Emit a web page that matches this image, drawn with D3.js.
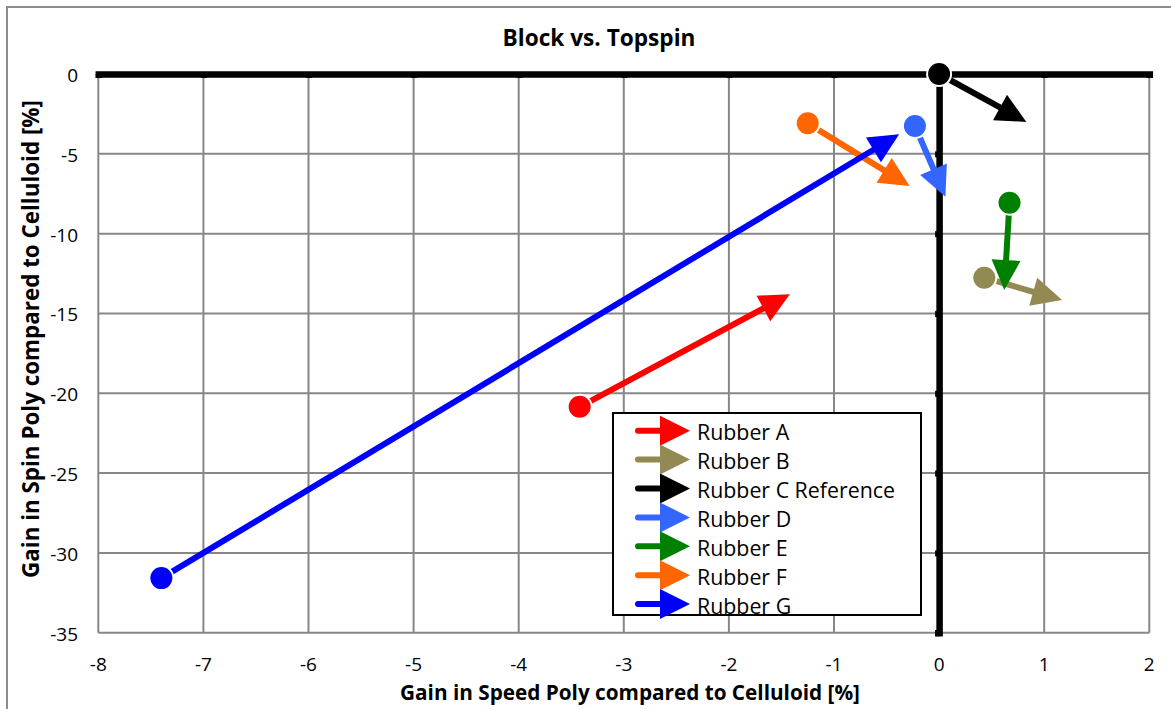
<!DOCTYPE html>
<html>
<head>
<meta charset="utf-8">
<script src="https://cdn.jsdelivr.net/npm/d3@7"></script>
<style>
  html, body { margin: 0; padding: 0; background: #fff; }
  svg { display: block; }
  text { font-family: "Open Sans", Lato, sans-serif; fill: #000; }
</style>
</head>
<body>
<svg id="chart" width="1171" height="709"></svg>
<script>
// ---- data ----
const rubbers = ["Rubber A", "Rubber B", "Rubber C Reference", "Rubber D", "Rubber E", "Rubber F", "Rubber G"];
const colors  = ["#FF0000", "#938953", "#000000", "#3366FF", "#008000", "#FF6600", "#0000FF"];
const startX  = [-3.42, 0.43, 0.00, -0.23, 0.67, -1.25, -7.40];
const startY  = [-20.85, -12.76, 0.00, -3.26, -8.06, -3.09, -31.58];
const endX    = [-1.42, 1.17, 0.83, 0.06, 0.62, -0.28, -0.38];
const endY    = [-13.80, -14.16, -3.00, -7.69, -13.53, -7.02, -3.78];
const xTicks  = [-8, -7, -6, -5, -4, -3, -2, -1, 0, 1, 2];
const yTicks  = [0, -5, -10, -15, -20, -25, -30, -35];

const svg = d3.select("#chart");
const L = 98.3, R = 1149.3, T = 74, B = 632.7;
const x = d3.scaleLinear().domain([-8, 2]).range([L, R]);
const y = d3.scaleLinear().domain([-35, 0]).range([B, T]);

// fit a text element to a target width by adjusting font size
function fit(sel, w) {
  const node = sel.node();
  const fs = parseFloat(sel.attr("font-size"));
  const cur = node.getComputedTextLength();
  if (cur > 0) sel.attr("font-size", (fs * w / cur).toFixed(2));
  return sel;
}

// outer border
svg.append("rect").attr("x", 7).attr("y", 7).attr("width", 1200).attr("height", 720)
  .attr("fill", "none").attr("stroke", "#8c8c8c").attr("stroke-width", 2);

// gridlines
const grid = svg.append("g");
grid.selectAll(".vx").data(xTicks).enter().append("line")
  .attr("x1", d => x(d)).attr("x2", d => x(d)).attr("y1", T).attr("y2", B)
  .attr("stroke", "#878787").attr("stroke-width", 2);
grid.selectAll(".hy").data(yTicks).enter().append("line")
  .attr("y1", d => y(d)).attr("y2", d => y(d)).attr("x1", L).attr("x2", R)
  .attr("stroke", "#878787").attr("stroke-width", 2);

// axes (thick black at zero)
const xAxis = d3.axisBottom(x).tickValues(xTicks).tickSize(4).tickFormat("");
const gx = svg.append("g").attr("transform", `translate(0,${y(0)})`).call(xAxis);
gx.select(".domain").attr("stroke", "#000").attr("stroke-width", 6.5);
gx.selectAll(".tick line").attr("stroke", "#000").attr("stroke-width", 6);

const yAxis = d3.axisLeft(y).tickValues(yTicks).tickSize(4).tickFormat("");
const gy = svg.append("g").attr("transform", `translate(${x(0)},0)`).call(yAxis);
gy.select(".domain").attr("stroke", "#000").attr("stroke-width", 6.5);
gy.selectAll(".tick line").attr("stroke", "#000").attr("stroke-width", 6);

// tick labels
svg.append("g").selectAll("text").data(xTicks).enter().append("text")
  .attr("x", d => x(d)).attr("y", 664).attr("text-anchor", "middle")
  .attr("dominant-baseline", "central").attr("font-size", 19).text(d => d);
svg.append("g").selectAll("text").data(yTicks).enter().append("text")
  .attr("x", 78).attr("y", d => y(d) + 1).attr("text-anchor", "end")
  .attr("dominant-baseline", "central").attr("font-size", 19).text(d => d);

// titles
fit(svg.append("text").attr("x", 599).attr("y", 37).attr("text-anchor", "middle")
  .attr("dominant-baseline", "central").attr("font-size", 21).attr("font-weight", "bold")
  .text("Block vs. Topspin"), 193);
fit(svg.append("text").attr("x", 630).attr("y", 692).attr("text-anchor", "middle")
  .attr("dominant-baseline", "central").attr("font-size", 19).attr("font-weight", "bold")
  .text("Gain in Speed Poly compared to Celluloid [%]"), 460);
fit(svg.append("text").attr("transform", "translate(30,339) rotate(-90)").attr("text-anchor", "middle")
  .attr("dominant-baseline", "central").attr("font-size", 19).attr("font-weight", "bold")
  .text("Gain in Spin Poly compared to Celluloid [%]"), 478);

// arrows
const headLen = 30, headHalf = 14.5;
const data = rubbers.map((name, i) => ({
  name, color: colors[i],
  x1: x(startX[i]), y1: y(startY[i]), x2: x(endX[i]), y2: y(endY[i])
}));
const marks = svg.append("g");
data.forEach(d => {
  const dx = d.x2 - d.x1, dy = d.y2 - d.y1;
  const len = Math.hypot(dx, dy);
  const ux = dx / len, uy = dy / len;
  const bx = d.x2 - ux * headLen, by = d.y2 - uy * headLen;
  const g = marks.append("g");
  g.append("line").attr("x1", d.x1).attr("y1", d.y1).attr("x2", bx + ux * 2).attr("y2", by + uy * 2)
    .attr("stroke", d.color).attr("stroke-width", 6);
  g.append("path")
    .attr("d", `M${d.x2},${d.y2}L${bx - uy * headHalf},${by + ux * headHalf}L${bx + uy * headHalf},${by - ux * headHalf}Z`)
    .attr("fill", d.color);
  g.append("circle").attr("cx", d.x1).attr("cy", d.y1).attr("r", 12)
    .attr("fill", d.color).attr("stroke", "#fff").attr("stroke-width", 2);
});

// legend
const lg = svg.append("g");
lg.append("rect").attr("x", 613).attr("y", 413).attr("width", 308).attr("height", 202)
  .attr("fill", "#fff").attr("stroke", "#000").attr("stroke-width", 2);
rubbers.forEach((name, i) => {
  const cy = 430.7 + i * 28.9;
  lg.append("line").attr("x1", 638).attr("x2", 662).attr("y1", cy).attr("y2", cy)
    .attr("stroke", colors[i]).attr("stroke-width", 6).attr("stroke-linecap", "round");
  lg.append("path").attr("d", `M660,${cy - 15}L690,${cy}L660,${cy + 15}Z`).attr("fill", colors[i]);
  lg.append("text").attr("x", 697).attr("y", cy + 1).attr("dominant-baseline", "central")
    .attr("font-size", 19.5).text(name);
});
// scale legend text so the longest entry matches the reference width
const lt = lg.selectAll("text");
const longest = d3.max(lt.nodes(), n => n.getComputedTextLength());
lt.attr("font-size", (19.5 * 198 / longest).toFixed(2));
</script>
</body>
</html>
